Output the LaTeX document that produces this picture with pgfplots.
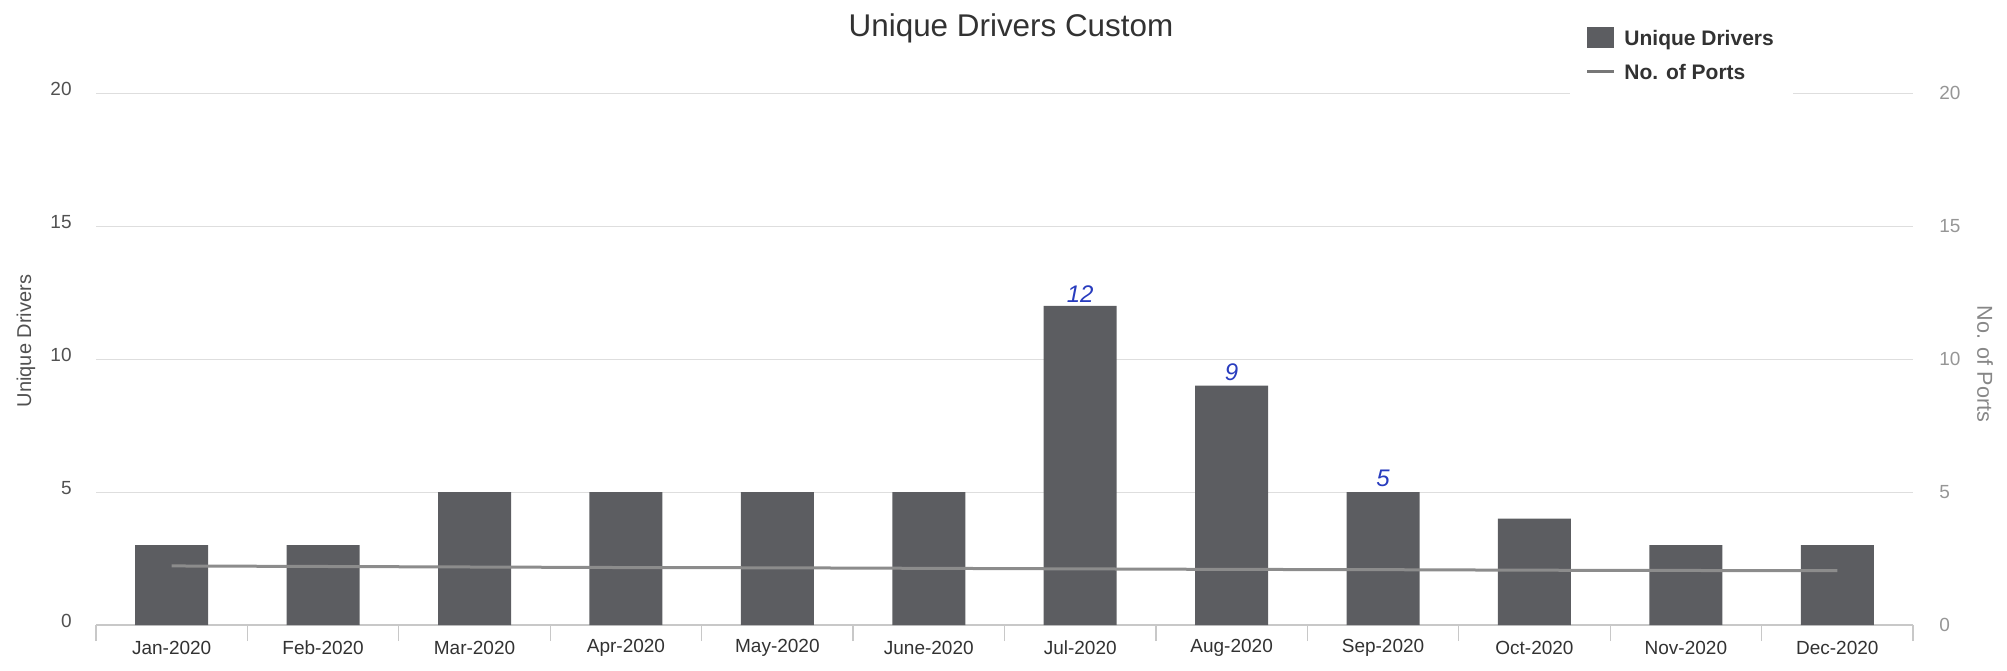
\documentclass[border=0pt]{standalone}
\usepackage{fontspec}
\setmainfont{Liberation Sans}
\usepackage{pgfplots}
\pgfplotsset{compat=1.18}
\definecolor{barc}{RGB}{92,93,97}
\definecolor{linec}{RGB}{140,140,140}
\definecolor{gridc}{RGB}{222,222,222}
\definecolor{axisc}{RGB}{200,200,200}
\definecolor{txtc}{RGB}{50,50,50}
\definecolor{ltxt}{RGB}{150,150,150}
\definecolor{pen}{RGB}{40,60,190}
\begin{document}
\begin{tikzpicture}[x=1pt,y=1pt]
\path[use as bounding box] (-48,-22.5) rectangle (955.5,312.5);
\begin{axis}[
  at={(0,0)}, anchor=south west, scale only axis,
  width=908.5pt, height=266pt,
  xmin=-0.5, xmax=11.5, ymin=0, ymax=20,
  axis x line*=bottom, axis y line*=left,
  y axis line style={draw=none},
  x axis line style={draw=axisc, line width=0.6pt, -},
  ytick={0,5,...,20},
  ymajorgrids, grid style={draw=gridc, line width=0.5pt},
  xtick={0,...,11},
  xticklabels={Jan-2020,Feb-2020,Mar-2020,Apr-2020,May-2020,June-2020,Jul-2020,Aug-2020,Sep-2020,Oct-2020,Nov-2020,Dec-2020},
  minor xtick={-0.5,0.5,1.5,2.5,3.5,4.5,5.5,6.5,7.5,8.5,9.5,10.5,11.5},
  major tick length=0pt, minor tick length=8pt, tick align=outside,
  minor tick style={draw=axisc, line width=0.6pt},
  x tick label style={font=\fontsize{9.5}{11}\selectfont, text=txtc, anchor=center, yshift=-11.5pt, inner sep=0pt},
  y tick label style={font=\fontsize{9.5}{11}\selectfont, text=txtc!85, anchor=east, xshift=-12pt, yshift=2pt, inner sep=0pt},
  /pgf/number format/assume math mode=true,
  clip=false,
]
\addplot[ybar, bar width=36.5pt, bar shift=0pt, fill=barc, draw=none]
  coordinates {(0,3) (1,3) (2,5) (3,5) (4,5) (5,5) (6,12) (7,9) (8,5) (9,4) (10,3) (11,3)};
\node[anchor=south, text=pen, font=\itshape\fontsize{12}{14}\selectfont, inner sep=0pt, yshift=1.5pt] at (axis cs:6,12) {12};
\node[anchor=south, text=pen, font=\itshape\fontsize{12}{14}\selectfont, inner sep=0pt, yshift=2pt] at (axis cs:7,9) {9};
\node[anchor=south, text=pen, font=\itshape\fontsize{12}{14}\selectfont, inner sep=0pt, yshift=2.5pt] at (axis cs:8,5) {5};
\end{axis}
\begin{axis}[
  at={(0,0)}, anchor=south west, scale only axis,
  width=908.5pt, height=266pt,
  xmin=-0.5, xmax=11.5, ymin=0, ymax=20,
  axis x line=none, axis y line*=right,
  y axis line style={draw=none},
  ytick={0,5,...,20}, xtick=\empty,
  major tick length=0pt,
  y tick label style={font=\fontsize{9.5}{11}\selectfont, text=ltxt, anchor=west, xshift=13pt, inner sep=0pt},
  /pgf/number format/assume math mode=true,
]
\addplot[color=linec, line width=1.5pt, mark=none]
  coordinates {(0,2.22) (1,2.2) (2,2.18) (3,2.16) (4,2.15) (5,2.13) (6,2.11) (7,2.09) (8,2.08) (9,2.06) (10,2.05) (11,2.04)};
\end{axis}
% title and axis labels
\node[font=\fontsize{15.7}{18}\selectfont, text=txtc] at (457.5,298.2) {Unique Drivers Custom};
\node[rotate=90, font=\fontsize{10}{12}\selectfont, text=txtc!85] at (-35,142) {Unique Drivers};
\node[rotate=-90, font=\fontsize{10.8}{12}\selectfont, text=ltxt!90!black] at (944.5,130.5) {No. of Ports};
% legend
\fill[white] (737,262) rectangle (848.5,306);
\fill[barc] (745.5,288.5) rectangle (759,299);
\node[anchor=west, inner sep=0pt, font=\bfseries\fontsize{10.5}{12}\selectfont, text=txtc] at (764,292.5) {Unique Drivers};
\draw[linec!85!black, line width=1.5pt] (745.5,276.5) -- (759,276.5);
\node[anchor=west, inner sep=0pt, font=\bfseries\fontsize{10.5}{12}\selectfont, text=txtc] at (764,276.5) {No. of Ports};
\end{tikzpicture}
\end{document}
